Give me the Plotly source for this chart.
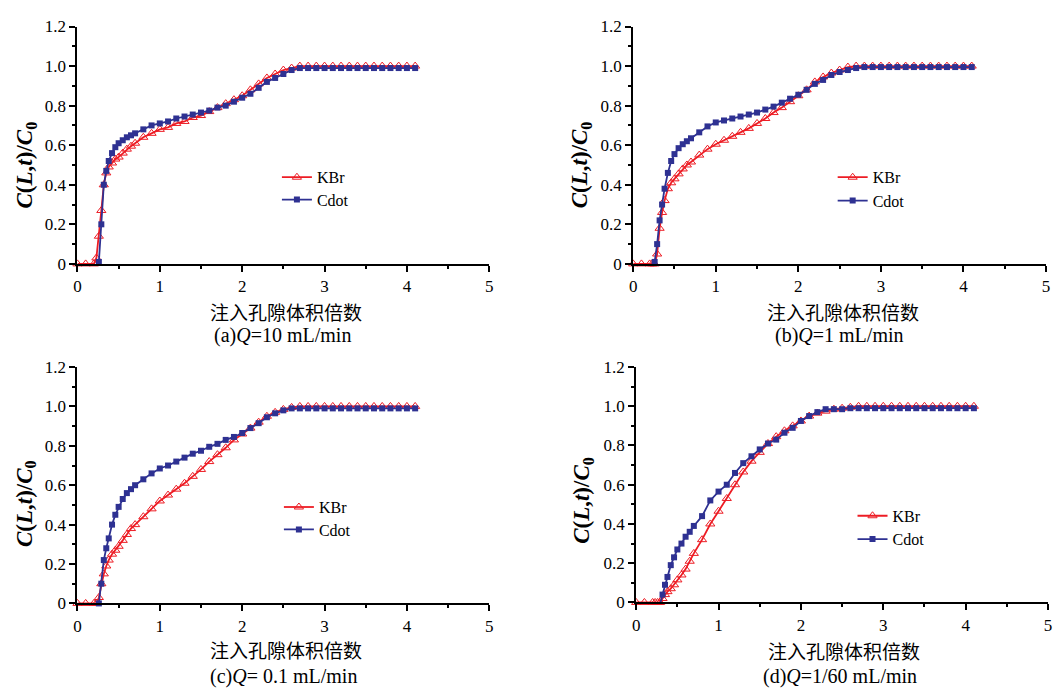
import plotly.graph_objects as go

# Injected pore volumes (shared sampling grid)
PV = [0, 0.1, 0.2, 0.23, 0.26, 0.29, 0.32, 0.35, 0.38, 0.42, 0.46, 0.5, 0.55, 0.6, 0.65, 0.7,
      0.8, 0.9, 1.0, 1.1, 1.2, 1.3, 1.4, 1.5, 1.6, 1.7, 1.8, 1.9, 2.0, 2.1, 2.2, 2.3, 2.4, 2.5,
      2.6, 2.7, 2.8, 2.9, 3.0, 3.1, 3.2, 3.3, 3.4, 3.5, 3.6, 3.7, 3.8, 3.9, 4.0, 4.1]

# (a) Q = 10 mL/min
A_KBR = [0, 0, 0, 0.03, 0.14, 0.27, 0.40, 0.46, 0.49, 0.51, 0.53, 0.54, 0.56, 0.58, 0.595, 0.61,
         0.64, 0.66, 0.68, 0.69, 0.71, 0.72, 0.74, 0.75, 0.77, 0.79, 0.81, 0.83, 0.85, 0.88, 0.91, 0.94, 0.96, 0.98,
         0.99, 1.0, 1.0, 1.0, 1.0, 1.0, 1.0, 1.0, 1.0, 1.0, 1.0, 1.0, 1.0, 1.0, 1.0, 1.0]
A_CDOT = [-0.01, -0.01, -0.01, -0.01, 0.01, 0.2, 0.40, 0.47, 0.52, 0.56, 0.59, 0.61, 0.625, 0.64, 0.65, 0.66,
          0.68, 0.70, 0.71, 0.72, 0.735, 0.745, 0.755, 0.765, 0.775, 0.79, 0.80, 0.82, 0.84, 0.86, 0.89, 0.92, 0.94, 0.96,
          0.98, 0.99, 0.99, 0.99, 0.99, 0.99, 0.99, 0.99, 0.99, 0.99, 0.99, 0.99, 0.99, 0.99, 0.99, 0.99]

# (b) Q = 1 mL/min
B_KBR = [0, 0, 0, 0, 0, 0.05, 0.18, 0.26, 0.32, 0.38, 0.41, 0.43, 0.455, 0.48, 0.50, 0.515,
         0.55, 0.58, 0.605, 0.625, 0.645, 0.665, 0.685, 0.71, 0.735, 0.765, 0.79, 0.82, 0.85, 0.88, 0.92, 0.945, 0.965, 0.98,
         0.995, 1.0, 1.0, 1.0, 1.0, 1.0, 1.0, 1.0, 1.0, 1.0, 1.0, 1.0, 1.0, 1.0, 1.0, 1.0]
B_CDOT = [-0.01, -0.01, -0.01, -0.01, 0.01, 0.1, 0.22, 0.30, 0.38, 0.46, 0.52, 0.555, 0.585, 0.605, 0.62, 0.635,
          0.665, 0.695, 0.715, 0.725, 0.735, 0.745, 0.755, 0.765, 0.78, 0.795, 0.815, 0.835, 0.855, 0.88, 0.91, 0.93, 0.955, 0.97,
          0.98, 0.99, 0.995, 0.995, 0.995, 0.995, 0.995, 0.995, 0.995, 0.995, 0.995, 0.995, 0.995, 0.995, 0.995, 0.995]

# (c) Q = 0.1 mL/min
C_KBR = [0, 0, 0, 0, 0.03, 0.1, 0.15, 0.19, 0.22, 0.25, 0.27, 0.29, 0.32, 0.35, 0.38, 0.40,
         0.44, 0.48, 0.52, 0.55, 0.58, 0.61, 0.645, 0.68, 0.72, 0.755, 0.79, 0.83, 0.86, 0.89, 0.92, 0.95, 0.97, 0.985,
         0.995, 1.0, 1.0, 1.0, 1.0, 1.0, 1.0, 1.0, 1.0, 1.0, 1.0, 1.0, 1.0, 1.0, 1.0, 1.0]
C_CDOT = [-0.01, -0.01, -0.01, -0.01, 0, 0.1, 0.22, 0.28, 0.33, 0.40, 0.45, 0.49, 0.53, 0.56, 0.58, 0.60,
          0.63, 0.66, 0.685, 0.70, 0.72, 0.74, 0.76, 0.775, 0.795, 0.81, 0.83, 0.845, 0.865, 0.89, 0.915, 0.945, 0.965, 0.98,
          0.99, 0.99, 0.99, 0.99, 0.99, 0.99, 0.99, 0.99, 0.99, 0.99, 0.99, 0.99, 0.99, 0.99, 0.99, 0.99]

# (d) Q = 1/60 mL/min
D_KBR = [0, 0, 0, 0, 0, 0, 0.02, 0.04, 0.055, 0.07, 0.09, 0.115, 0.14, 0.17, 0.21, 0.25,
         0.32, 0.40, 0.465, 0.53, 0.60, 0.665, 0.72, 0.765, 0.81, 0.845, 0.875, 0.90, 0.925, 0.95, 0.965, 0.975, 0.985, 0.99,
         0.995, 1.0, 1.0, 1.0, 1.0, 1.0, 1.0, 1.0, 1.0, 1.0, 1.0, 1.0, 1.0, 1.0, 1.0, 1.0]
D_CDOT = [-0.01, -0.01, -0.01, -0.01, -0.01, -0.01, 0.04, 0.09, 0.13, 0.19, 0.23, 0.27, 0.30, 0.335, 0.36, 0.39,
          0.44, 0.52, 0.565, 0.60, 0.66, 0.71, 0.745, 0.78, 0.81, 0.83, 0.865, 0.89, 0.925, 0.95, 0.97, 0.985, 0.985, 0.985,
          0.99, 0.99, 0.99, 0.99, 0.99, 0.99, 0.99, 0.99, 0.99, 0.99, 0.99, 0.99, 0.99, 0.99, 0.99, 0.99]

SERIES_NAMES = ["KBr", "Cdot"]
SUBTITLES = ["(a)<i>Q</i>=10 mL/min", "(b)<i>Q</i>=1 mL/min",
             "(c)<i>Q</i>= 0.1 mL/min", "(d)<i>Q</i>=1/60 mL/min"]
X_TITLE = "注入孔隙体积倍数"
Y_TITLE = "<b><i>C</i>(<i>L</i>,<i>t</i>)/<i>C</i><sub>0</sub></b>"

X_TICKS = [0, 1, 2, 3, 4, 5]
X_MINOR = [0.5, 1.5, 2.5, 3.5, 4.5]
Y_TICKS = [0, 0.2, 0.4, 0.6, 0.8, 1.0, 1.2]
Y_TICKTEXT = ["0", "0.2", "0.4", "0.6", "0.8", "1.0", "1.2"]
Y_MINOR = [0.1, 0.3, 0.5, 0.7, 0.9, 1.1]

RED = "#ED1C24"
BLUE = "#2E3192"
W, H = 1055, 700
SERIF = "Liberation Serif"
CJK = "Noto Sans CJK SC"

panels = [
    dict(data=(A_KBR, A_CDOT), xpx=(74, 489), ypx=(18, 262), ytitle=(22, 160), xtitle=(284, 311),
         sub=(281, 336), leg=(280, 173, 196)),
    dict(data=(B_KBR, B_CDOT), xpx=(634, 1050), ypx=(18, 262), ytitle=(581, 160), xtitle=(845, 311),
         sub=(842, 336), leg=(840, 173, 197)),
    dict(data=(C_KBR, C_CDOT), xpx=(74, 489), ypx=(368, 611), ytitle=(22, 508), xtitle=(284, 658),
         sub=(282, 686), leg=(282, 512, 535)),
    dict(data=(D_KBR, D_CDOT), xpx=(637, 1052), ypx=(368, 610), ytitle=(584, 505), xtitle=(846, 659),
         sub=(842, 686), leg=(860, 521, 545)),
]

fig = go.Figure()
layout = dict(width=W, height=H, margin=dict(l=0, r=0, t=0, b=0),
              paper_bgcolor="white", plot_bgcolor="white", showlegend=True,
              font=dict(family=SERIF, size=17, color="black"))
annotations = []

for i, p in enumerate(panels):
    n = i + 1
    xs = "" if n == 1 else str(n)
    kbr, cdot = p["data"]
    lg_k = "legend" if n == 1 else f"legend{2 * n - 1}"
    lg_c = f"legend{2 * n}"
    fig.add_trace(go.Scatter(
        x=PV, y=kbr, name=SERIES_NAMES[0], mode="lines+markers",
        line=dict(color=RED, width=1.8),
        marker=dict(symbol="triangle-up-open", size=8, color=RED, line=dict(width=1, color=RED)),
        xaxis="x" + xs, yaxis="y" + xs, legend=lg_k, cliponaxis=False))
    fig.add_trace(go.Scatter(
        x=PV, y=cdot, name=SERIES_NAMES[1], mode="lines+markers",
        line=dict(color=BLUE, width=1.8),
        marker=dict(symbol="square", size=6, color=BLUE),
        xaxis="x" + xs, yaxis="y" + xs, legend=lg_c, cliponaxis=False))

    x0, x1 = p["xpx"]
    yt, yb = p["ypx"]
    layout["xaxis" + xs] = dict(
        domain=[x0 / W, x1 / W], range=[0, 5], anchor="y" + xs,
        showline=True, linecolor="black", linewidth=2, mirror=False,
        ticks="outside", ticklen=6, tickwidth=1.5, tickcolor="black",
        tickmode="array", tickvals=X_TICKS, ticktext=[str(v) for v in X_TICKS],
        minor=dict(ticks="outside", ticklen=3, tickwidth=1.5, tickcolor="black", tickvals=X_MINOR),
        showgrid=False, zeroline=False, tickfont=dict(family=SERIF, size=17, color="black"))
    layout["yaxis" + xs] = dict(
        domain=[1 - yb / H, 1 - yt / H], range=[0, 1.2], anchor="x" + xs,
        showline=True, linecolor="black", linewidth=2, mirror=False,
        ticks="outside", ticklen=6, tickwidth=1.5, tickcolor="black",
        tickmode="array", tickvals=Y_TICKS, ticktext=Y_TICKTEXT,
        minor=dict(ticks="outside", ticklen=3, tickwidth=1.5, tickcolor="black", tickvals=Y_MINOR),
        showgrid=False, zeroline=False, tickfont=dict(family=SERIF, size=17, color="black"))

    lx, ly1, ly2 = p["leg"]
    for lid, ly in ((lg_k, ly1), (lg_c, ly2)):
        layout[lid] = dict(x=(lx - 5) / W, y=1 - ly / H, xanchor="left", yanchor="middle",
                           bgcolor="rgba(0,0,0,0)", borderwidth=0,
                           font=dict(family=SERIF, size=16, color="black"),
                           itemwidth=30, tracegroupgap=0)

    tx, ty = p["ytitle"]
    annotations.append(dict(text=Y_TITLE, x=tx / W, y=1 - ty / H, xref="paper", yref="paper",
                            showarrow=False, textangle=-90, xanchor="center", yanchor="middle",
                            font=dict(family=SERIF, size=23, color="black")))
    tx, ty = p["xtitle"]
    annotations.append(dict(text=X_TITLE, x=tx / W, y=1 - ty / H, xref="paper", yref="paper",
                            showarrow=False, xanchor="center", yanchor="middle",
                            font=dict(family=CJK, size=19, color="black")))
    tx, ty = p["sub"]
    annotations.append(dict(text=SUBTITLES[i], x=tx / W, y=1 - ty / H, xref="paper", yref="paper",
                            showarrow=False, xanchor="center", yanchor="middle",
                            font=dict(family=SERIF, size=20, color="black")))

layout["annotations"] = annotations
fig.update_layout(**layout)
fig.write_html("out.html", config={"displayModeBar": False},
               post_script="document.body.style.margin='0';")
